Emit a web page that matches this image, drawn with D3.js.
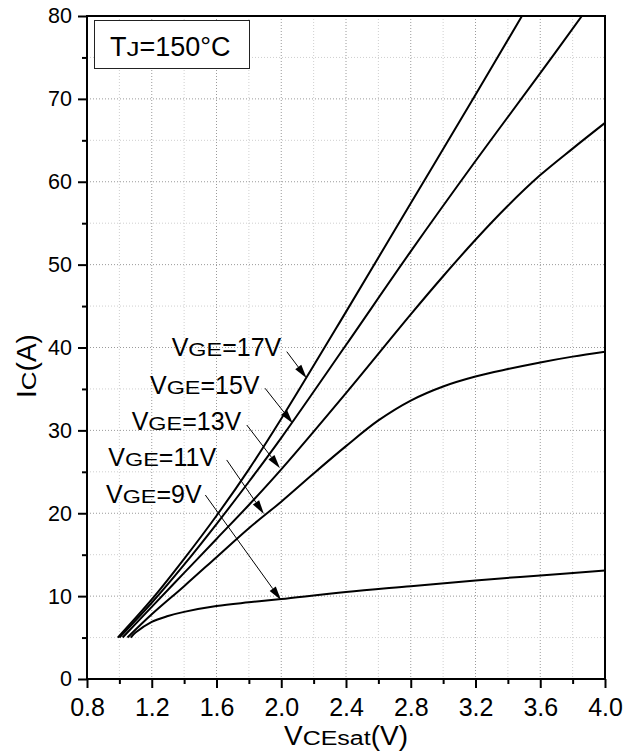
<!DOCTYPE html>
<html><head><meta charset="utf-8">
<script src="https://cdn.jsdelivr.net/npm/d3@7/dist/d3.min.js"></script>
<style>
html,body{margin:0;padding:0;background:#fff;}
text{font-family:"Liberation Sans",Arial,Helvetica,sans-serif;fill:#000;}
</style></head>
<body><svg id="c" width="632" height="755"></svg>
<script>
// ---------- data ----------
const vce17 = [0.99, 1.2, 1.4, 1.6, 1.8, 2.0, 2.4, 2.8, 3.2, 3.487];
const ic17  = [5.0, 9.6, 14.5, 19.7, 25.3, 31.4, 44.3, 57.4, 70.5, 80.0];
const vce15 = [1.00, 1.2, 1.4, 1.6, 1.8, 2.0, 2.4, 2.8, 3.2, 3.6, 3.857];
const ic15  = [5.0, 9.2, 13.8, 18.7, 23.8, 29.1, 40.3, 51.6, 62.5, 73.1, 80.0];
const vce13 = [1.02, 1.2, 1.4, 1.6, 1.8, 2.0, 2.4, 2.8, 3.0, 3.2, 3.4, 3.6, 3.8, 4.0];
const ic13  = [5.0, 8.7, 12.8, 16.9, 21.0, 25.3, 34.5, 44.0, 48.6, 53.0, 57.1, 60.8, 64.0, 67.1];
const vce11 = [1.05, 1.2, 1.4, 1.6, 1.8, 2.0, 2.2, 2.4, 2.6, 2.8, 3.0, 3.2, 3.4, 3.6, 3.8, 4.0];
const ic11  = [5.0, 7.8, 11.2, 14.7, 18.2, 21.4, 24.8, 28.1, 31.2, 33.6, 35.3, 36.5, 37.4, 38.2, 38.9, 39.5];
const vce9  = [1.07, 1.1, 1.2, 1.3, 1.4, 1.6, 1.8, 2.0, 2.4, 2.8, 3.2, 3.6, 4.0];
const ic9   = [5.0, 5.6, 6.9, 7.6, 8.1, 8.8, 9.25, 9.65, 10.5, 11.2, 11.9, 12.5, 13.1];

const xMajorTicks = [0.8, 1.2, 1.6, 2.0, 2.4, 2.8, 3.2, 3.6, 4.0];
const xMinorTicks = [1.0, 1.4, 1.8, 2.2, 2.6, 3.0, 3.4, 3.8];
const yMajorTicks = [0, 10, 20, 30, 40, 50, 60, 70, 80];
const yMinorTicks = [5, 15, 25, 35, 45, 55, 65, 75];

const annGate  = ["17", "15", "13", "11", "9"];
const annTextV = [1.323, 1.189, 1.076, 0.932, 0.917];
const annTextI = [38.97, 34.39, 30.05, 25.74, 21.24];
const annFromV = [2.034, 1.900, 1.787, 1.663, 1.531];
const annFromI = [39.5, 35.08, 30.65, 26.43, 22.2];
const annToV   = [2.157, 2.071, 1.992, 1.893, 1.998];
const annToI   = [36.3, 30.85, 25.42, 19.91, 9.53];

// ---------- layout ----------
const L = 87, R = 605, T = 16, B = 679;
const svg = d3.select("#c");
const x = d3.scaleLinear().domain([0.8, 4.0]).range([L, R]);
const y = d3.scaleLinear().domain([0, 80]).range([B, T]);

function rich(g, px, py, parts, anchor) {
  const grp = g.append("g");
  let cx = 0;
  parts.forEach(p => {
    const sx = p.sx || 1;
    const t = grp.append("text").attr("font-size", p.s).text(p.t)
      .attr("transform", `translate(${cx},0) scale(${sx},1)`);
    cx += t.node().getComputedTextLength() * sx;
  });
  const ox = anchor === "middle" ? -cx / 2 : anchor === "end" ? -cx : 0;
  grp.attr("transform", `translate(${px + ox},${py})`);
  return grp;
}

// grid
const grid = svg.append("g");
xMinorTicks.forEach(v => grid.append("line").attr("x1", x(v)).attr("x2", x(v)).attr("y1", T).attr("y2", B)
  .attr("stroke", "#cfcfcf").attr("stroke-width", 1).attr("stroke-dasharray", "1,2"));
xMajorTicks.slice(1, -1).forEach(v => grid.append("line").attr("x1", x(v)).attr("x2", x(v)).attr("y1", T).attr("y2", B)
  .attr("stroke", "#9a9a9a").attr("stroke-width", 1).attr("stroke-dasharray", "1,2"));
yMinorTicks.forEach(v => grid.append("line").attr("y1", y(v)).attr("y2", y(v)).attr("x1", L).attr("x2", R)
  .attr("stroke", "#cfcfcf").attr("stroke-width", 1).attr("stroke-dasharray", "1,2"));
yMajorTicks.slice(1, -1).forEach(v => grid.append("line").attr("y1", y(v)).attr("y2", y(v)).attr("x1", L).attr("x2", R)
  .attr("stroke", "#9a9a9a").attr("stroke-width", 1).attr("stroke-dasharray", "1,2"));

// curves
svg.append("clipPath").attr("id", "clip").append("rect")
  .attr("x", L).attr("y", T).attr("width", R - L).attr("height", B - T);
const line = d3.line().x(d => x(d[0])).y(d => y(d[1])).curve(d3.curveCatmullRom.alpha(0.5));
const series = [[vce17, ic17], [vce15, ic15], [vce13, ic13], [vce11, ic11], [vce9, ic9]];
const cg = svg.append("g").attr("clip-path", "url(#clip)");
series.forEach(([vs, is]) => {
  cg.append("path").datum(vs.map((v, i) => [v, is[i]]))
    .attr("d", line).attr("fill", "none").attr("stroke", "#000").attr("stroke-width", 2)
    .attr("stroke-linejoin", "round");
});

// axes
const ax = svg.append("g");
const xa = ax.append("g").attr("transform", `translate(0,${B})`)
  .call(d3.axisBottom(x).tickValues(xMajorTicks).tickSize(9).tickSizeOuter(0).tickPadding(10).tickFormat(d3.format(".1f")));
const xm = ax.append("g").attr("transform", `translate(0,${B})`)
  .call(d3.axisBottom(x).tickValues(xMinorTicks).tickSize(5).tickSizeOuter(0).tickFormat(""));
const ya = ax.append("g").attr("transform", `translate(${L},0)`)
  .call(d3.axisLeft(y).tickValues(yMajorTicks).tickSize(9).tickSizeOuter(0).tickPadding(6).tickFormat(d3.format("d")));
const ym = ax.append("g").attr("transform", `translate(${L},0)`)
  .call(d3.axisLeft(y).tickValues(yMinorTicks).tickSize(5).tickSizeOuter(0).tickFormat(""));
[xa, xm, ya, ym].forEach(g => { g.select(".domain").remove(); g.selectAll("line").attr("stroke", "#000").attr("stroke-width", 2); });
xa.selectAll("text").attr("font-size", 25).attr("fill", "#000").attr("font-family", "Liberation Sans, Arial, sans-serif");
ya.selectAll("text").attr("font-size", 21.5).attr("fill", "#000").attr("font-family", "Liberation Sans, Arial, sans-serif");

// frame
svg.append("rect").attr("x", L).attr("y", T).attr("width", R - L).attr("height", B - T)
  .attr("fill", "none").attr("stroke", "#000").attr("stroke-width", 2);

// axis titles
rich(svg, 346, 745, [{t: "V", s: 28}, {t: "CEsat", s: 20, sx: 1.25}, {t: "(V)", s: 28}], "middle");
const yl = svg.append("g").attr("transform", "translate(36,366) rotate(-90)");
rich(yl, 0, 0, [{t: "I", s: 28}, {t: "C", s: 20, sx: 1.3}, {t: "(A)", s: 28}], "middle");

// Tj box
svg.append("rect").attr("x", 94.5).attr("y", 20.5).attr("width", 155).attr("height", 48)
  .attr("fill", "#fff").attr("stroke", "#222").attr("stroke-width", 1);
rich(svg, 110, 56, [{t: "T", s: 27}, {t: "J", s: 20, sx: 1.3}, {t: "=150°C", s: 27}], "start");

// annotations
const ag = svg.append("g");
annGate.forEach((gv, i) => {
  rich(ag, x(annTextV[i]), y(annTextI[i]), [{t: "V", s: 25}, {t: "GE", s: 18, sx: 1.3}, {t: "=" + gv + "V", s: 25}], "start");
  const x1 = x(annFromV[i]), y1 = y(annFromI[i]), x2 = x(annToV[i]), y2 = y(annToI[i]);
  const ang = Math.atan2(y2 - y1, x2 - x1);
  const hl = 14, hw = 3.8;
  const bx = x2 - hl * Math.cos(ang), by = y2 - hl * Math.sin(ang);
  ag.append("line").attr("x1", x1).attr("y1", y1).attr("x2", bx).attr("y2", by)
    .attr("stroke", "#000").attr("stroke-width", 1);
  const px = -Math.sin(ang) * hw, py = Math.cos(ang) * hw;
  ag.append("path").attr("d", `M${x2},${y2}L${bx + px},${by + py}L${bx - px},${by - py}Z`).attr("fill", "#000");
});
</script></body></html>
